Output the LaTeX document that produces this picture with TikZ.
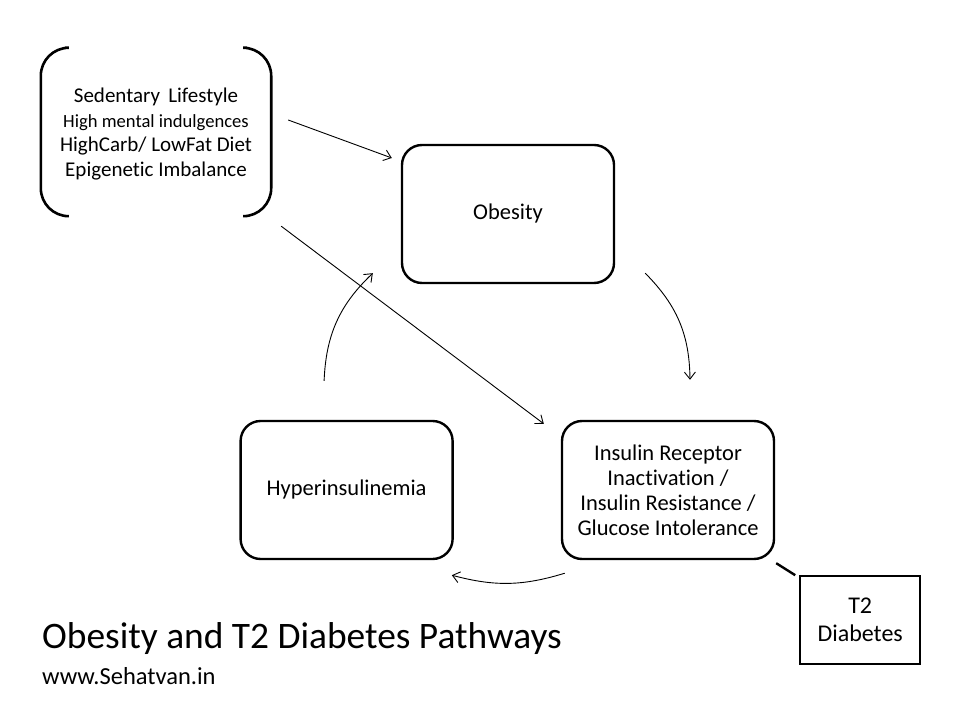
\documentclass[tikz,border=0pt]{standalone}
\usepackage{fontspec}
\setmainfont{Carlito}[Ligatures={NoCommon}]
\usetikzlibrary{arrows.meta,positioning,calc}

\begin{document}
\begin{tikzpicture}[
  x=1pt,y=1pt,
  stage/.style={draw,line width=2.4pt,rounded corners=20pt,align=center,minimum width=212pt,minimum height=138pt,font=\fontsize{22.5}{25}\selectfont},
  factors/.style={align=center,minimum width=230pt,minimum height=168pt,font=\fontsize{21}{24.5}\selectfont},
  bracket/.style={line width=2.6pt,rounded corners=28pt},
  outcome/.style={draw,line width=2pt,align=center,minimum width=120pt,minimum height=88pt,font=\fontsize{24}{28}\selectfont},
  arrow/.style={-{Straight Barb[length=7pt,width=11pt]},line width=0.9pt},
  link/.style={line width=2.4pt}
]
\useasboundingbox (0,0) rectangle (960,720);
\node[factors,text depth=-4pt] (causes) at (156,588) {Sedentary\ \,Lifestyle\\{\fontsize{18.6}{24.5}\selectfont High mental indulgences}\\HighCarb/ LowFat Diet\\Epigenetic Imbalance};
\node[stage] (obesity) at (508,506) {Obesity};
\node[stage] (insulin) at (668,230) {Insulin Receptor\\Inactivation /\\Insulin Resistance /\\Glucose Intolerance};
\node[stage,left=107pt of insulin] (hyper) {Hyperinsulinemia};
\node[outcome,below right=15pt and 24pt of insulin] (t2) {T2\\Diabetes};
% brackets round the risk factors
\draw[bracket] ([xshift=24pt]causes.north west) -- (causes.north west) -- (causes.south west) -- ([xshift=24pt]causes.south west);
\draw[bracket] ([xshift=-24pt]causes.north east) -- (causes.north east) -- (causes.south east) -- ([xshift=-24pt]causes.south east);
% connectors
\draw[arrow] ($(causes.east)+(17,12)$) -- ($(obesity.west)+(-9,56)$);
\draw[arrow] ($(causes.south east)+(10,-10)$) -- ($(insulin.north west)+(-17,-4)$);
\draw[arrow] ($(obesity.south east)+(30,11)$) to[bend left=22] ($(insulin.north)+(22,40)$);
\draw[arrow] ($(insulin.south west)+(4,-13)$) to[bend left=16] ($(hyper.south east)+(-2,-15)$);
\draw[arrow] ($(hyper.north)+(-22.5,39)$) to[bend left=22] ($(obesity.south west)+(-28,11)$);
\draw[link] ($(insulin.south east)+(1,-3)$) -- ($(t2.north west)+(-4,0)$);
% caption
\node[anchor=base west,inner sep=0pt,font=\fontsize{37.4}{44}\selectfont] (title) at (42,72) {Obesity and T2 Diabetes Pathways};
\node[anchor=base west,inner sep=0pt,font=\fontsize{24.5}{28}\selectfont] (site) at (42,36) {www.Sehatvan.in};
\end{tikzpicture}
\end{document}
